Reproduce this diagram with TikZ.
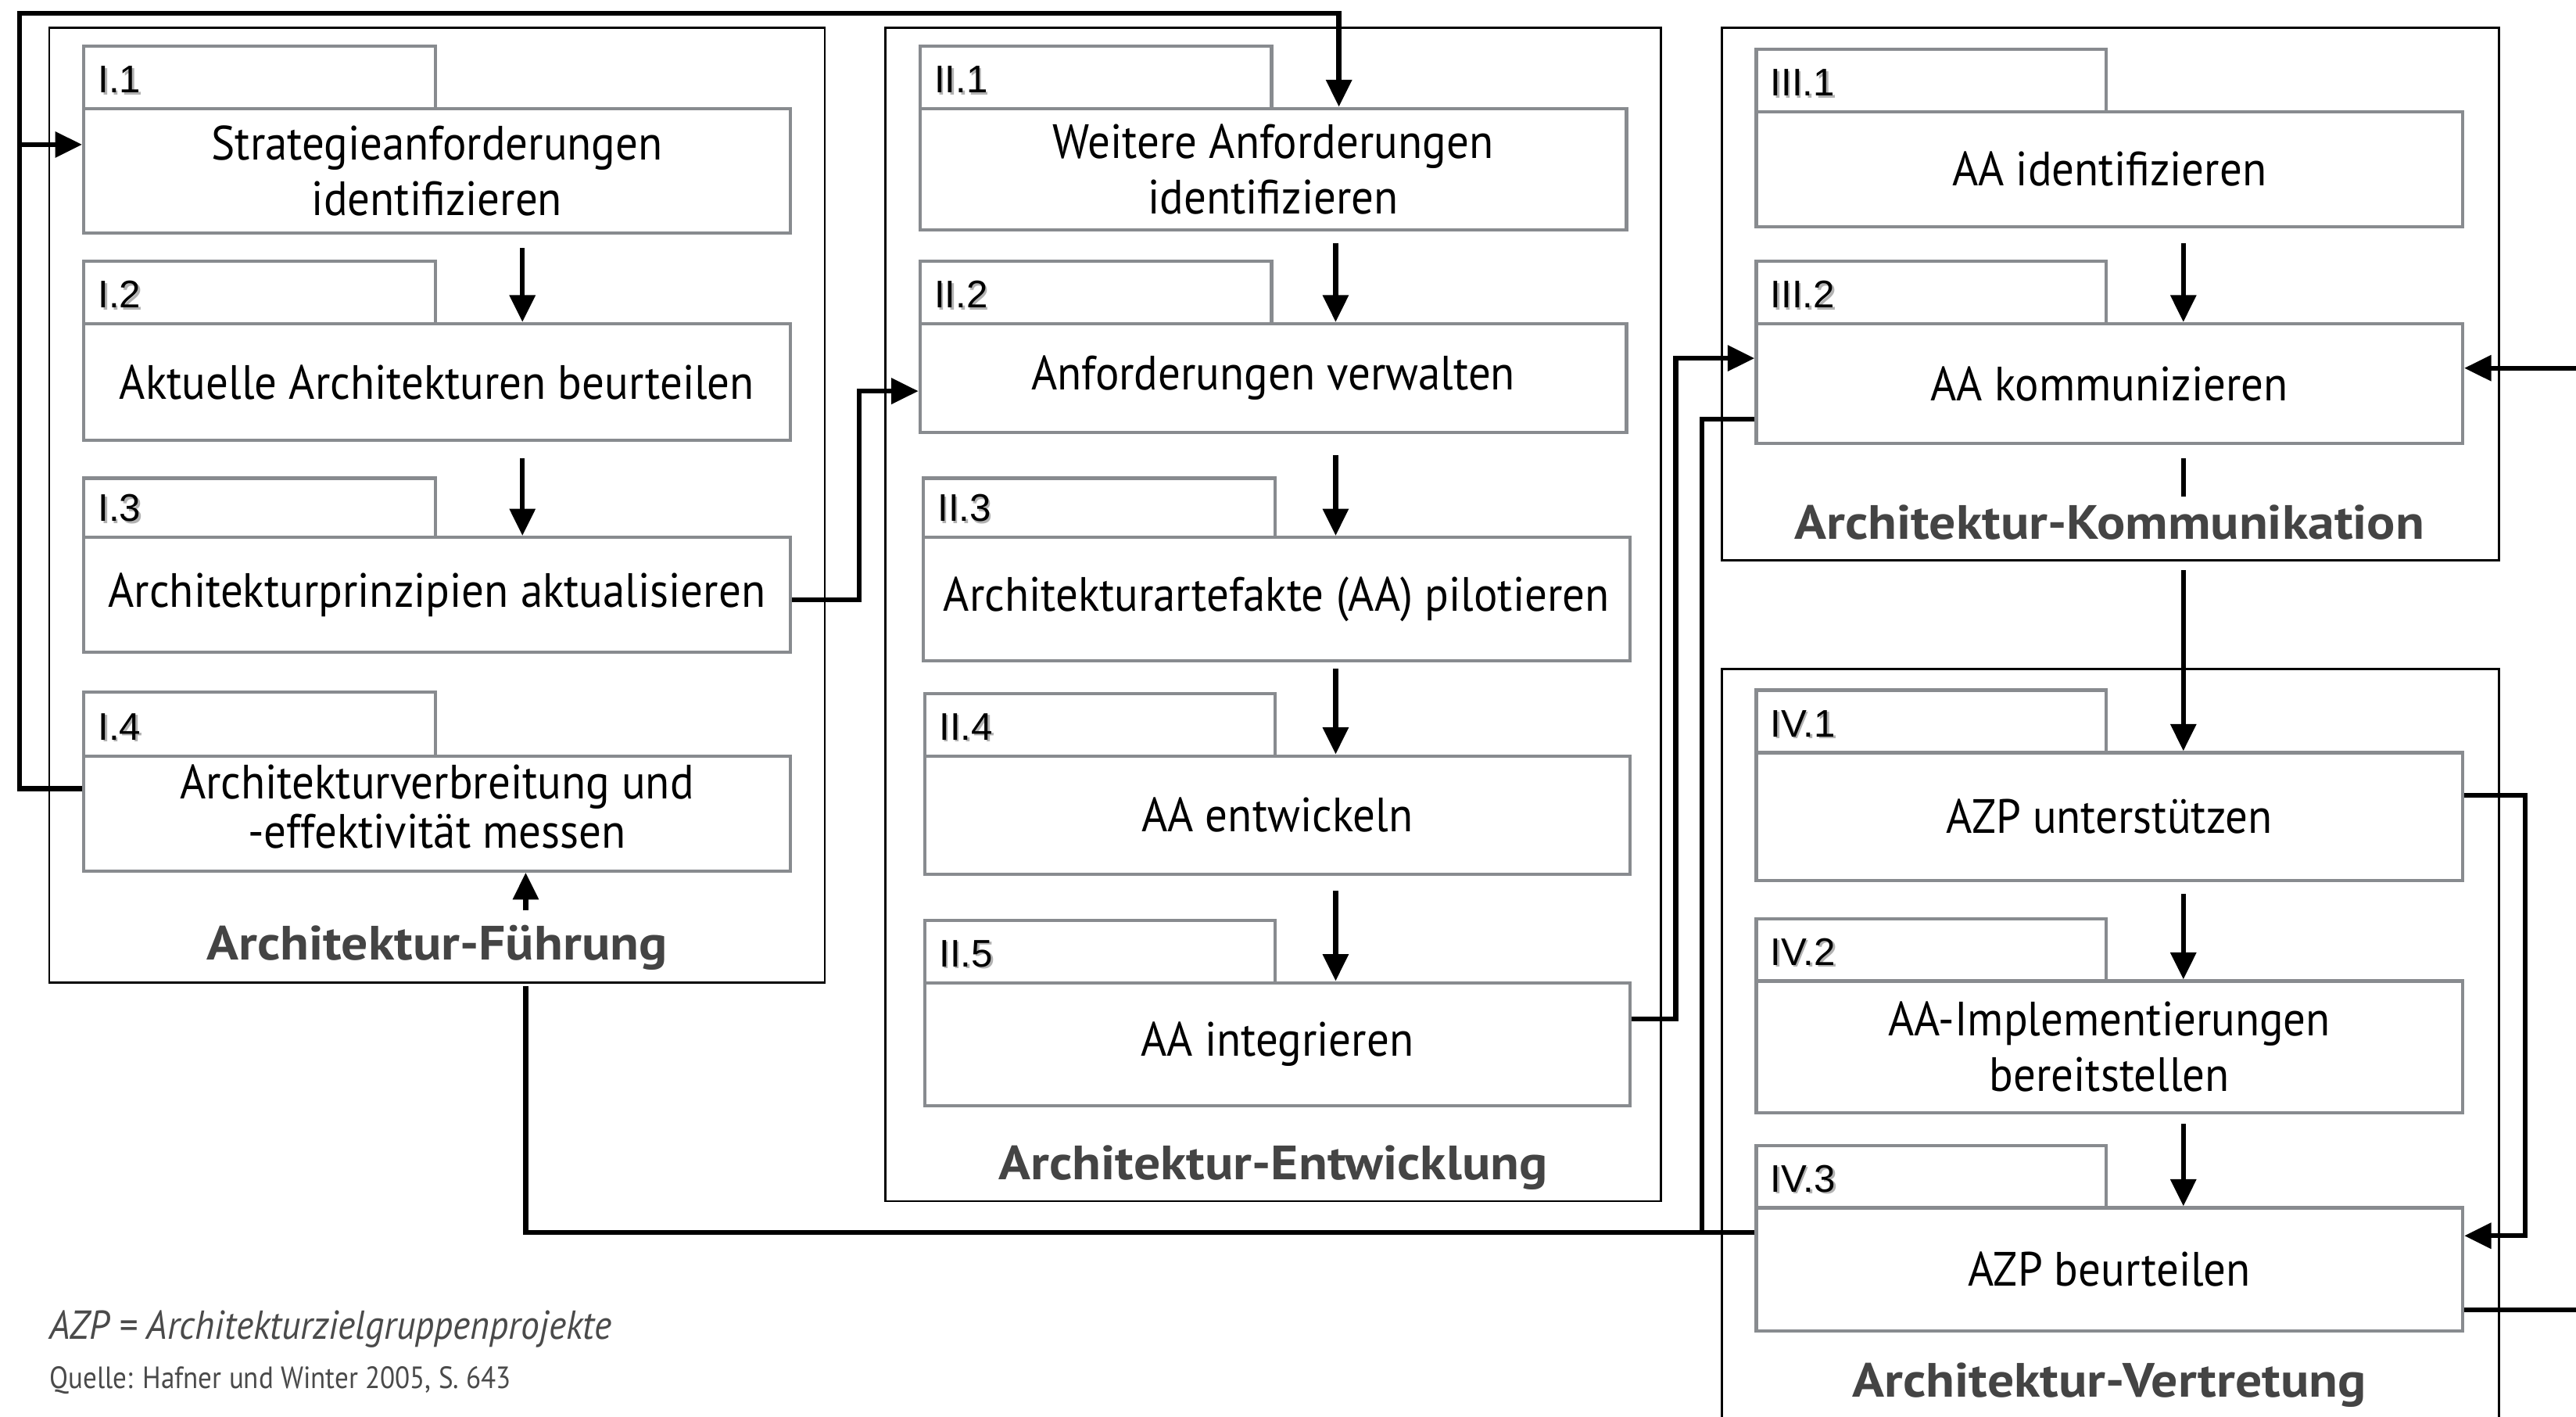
\documentclass[tikz,border=0pt]{standalone}
\usepackage{fontspec}
\setmainfont{PT Sans}
\newfontfamily\bodyfont[FakeStretch=0.925]{PT Sans}
\newfontfamily\titlefont[FakeStretch=1.1]{PT Sans}
\newfontfamily\notefont[FakeStretch=0.92]{PT Sans}
\newfontfamily\tabfont{Liberation Sans}
\usetikzlibrary{arrows.meta}
\definecolor{boxgray}{HTML}{888B8F}
\definecolor{titlegray}{HTML}{444444}
\definecolor{notegray}{HTML}{4A4A4A}

\tikzset{
  stepbox/.style={draw=boxgray, line width=1.7pt, fill=white, inner sep=0pt,
    align=center, font=\bodyfont\fontsize{25}{29}\selectfont},
  tightlines/.style={font=\bodyfont\fontsize{25}{25.6}\selectfont},
  tabbox/.style={draw=boxgray, line width=1.7pt, fill=white, inner sep=0pt},
  tablabel/.style={inner sep=0pt, font=\tabfont\fontsize{20}{24}\selectfont},
  tabshadow/.style={tablabel, text=black!30},
  groupbox/.style={draw=black, line width=1.1pt, inner sep=0pt},
  grouptitle/.style={inner sep=0pt, text=titlegray, font=\titlefont\bfseries\fontsize{25}{30}\selectfont},
  flow/.style={line width=2.6pt},
  flowarrow/.style={flow, -{Triangle[length=14pt,width=13pt]}},
}

% rectangle node from its two corners: name, x1, y1, x2, y2, style, text
\newcommand\cornerbox[7]{%
  \node[#6, minimum width={(#4-#2)*0.3mm}, minimum height={(#5-#3)*0.3mm}]
    (#1) at ({(#2+#4)/2},{(#3+#5)/2}) {#7};}
% numbered tab above a step: name, x1, y1, x2, y2, label
\newcommand\steptab[6]{%
  \cornerbox{#1}{#2}{#3}{#4}{#5}{tabbox}{}
  \node[tabshadow, anchor=base west] (#1-shadow) at ({#2+9.7},{#5-8.4}) {#6};
  \node[tablabel, anchor=base west] (#1-label) at ({#2+8.5},{#5-9.6}) {#6};}

\begin{document}
\begin{tikzpicture}[x=0.3mm, y=-0.3mm]
\useasboundingbox (0,0) rectangle (1568,862);

% process groups
\cornerbox{g1}{30}{17}{502}{598}{groupbox}{}
\cornerbox{g2}{539}{17}{1011}{731}{groupbox}{}
\cornerbox{g3}{1048}{17}{1521}{341}{groupbox}{}
\cornerbox{g4}{1048}{407}{1521}{880}{groupbox}{}

% Architektur-Fuehrung
\steptab{i1t}{51}{28}{265}{66}{I.1}
\cornerbox{i1}{51}{66}{481}{142}{stepbox}{Strategieanforderungen\\identifizieren}
\steptab{i2t}{51}{159}{265}{197}{I.2}
\cornerbox{i2}{51}{197}{481}{268}{stepbox}{Aktuelle Architekturen beurteilen}
\steptab{i3t}{51}{291}{265}{327}{I.3}
\cornerbox{i3}{51}{327}{481}{397}{stepbox}{Architekturprinzipien aktualisieren}
\steptab{i4t}{51}{421}{265}{460}{I.4}
\cornerbox{i4}{51}{460}{481}{530}{stepbox, tightlines}{\raisebox{3pt}{\begin{tabular}{@{}c@{}}Architekturverbreitung und\\-effektivität messen\end{tabular}}}
\node[grouptitle, anchor=base] (t1) at (266,584) {Architektur-Führung};

% Architektur-Entwicklung
\steptab{ii1t}{560}{28}{774}{66}{II.1}
\cornerbox{ii1}{560}{66}{990}{140}{stepbox}{Weitere Anforderungen\\identifizieren}
\steptab{ii2t}{560}{159}{774}{197}{II.2}
\cornerbox{ii2}{560}{197}{990}{263}{stepbox}{Anforderungen verwalten}
\steptab{ii3t}{562}{291}{776}{327}{II.3}
\cornerbox{ii3}{562}{327}{992}{402}{stepbox}{Architekturartefakte (AA) pilotieren}
\steptab{ii4t}{563}{422}{776}{460}{II.4}
\cornerbox{ii4}{563}{460}{992}{532}{stepbox}{AA entwickeln}
\steptab{ii5t}{563}{560}{776}{598}{II.5}
\cornerbox{ii5}{563}{598}{992}{673}{stepbox}{AA integrieren}
\node[grouptitle, anchor=base] (t2) at (775,718) {Architektur-Entwicklung};

% Architektur-Kommunikation
\steptab{iii1t}{1069}{30}{1282}{68}{III.1}
\cornerbox{iii1}{1069}{68}{1499}{138}{stepbox}{AA identifizieren}
\steptab{iii2t}{1069}{159}{1282}{197}{III.2}
\cornerbox{iii2}{1069}{197}{1499}{270}{stepbox}{AA kommunizieren}
\node[grouptitle, anchor=base] (t3) at (1284,328) {Architektur-Kommunikation};

% Architektur-Vertretung
\steptab{iv1t}{1069}{420}{1282}{458}{IV.1}
\cornerbox{iv1}{1069}{458}{1499}{536}{stepbox}{AZP unterstützen}
\steptab{iv2t}{1069}{559}{1282}{597}{IV.2}
\cornerbox{iv2}{1069}{597}{1499}{677}{stepbox}{AA-Implementierungen\\bereitstellen}
\steptab{iv3t}{1069}{697}{1282}{735}{IV.3}
\cornerbox{iv3}{1069}{735}{1499}{810}{stepbox}{AZP beurteilen}
\node[grouptitle, anchor=base] (t4) at (1284,850) {Architektur-Vertretung};

% sequence arrows inside the groups
\draw[flowarrow] (i1.south -| 318,0) ++(0,8) -- (i2.north -| 318,0);
\draw[flowarrow] (i2.south -| 318,0) ++(0,10) -- (i3.north -| 318,0);
\draw[flowarrow] (ii1.south -| 813,0) ++(0,7) -- (ii2.north -| 813,0);
\draw[flowarrow] (ii2.south -| 813,0) ++(0,13) -- (ii3.north -| 813,0);
\draw[flowarrow] (ii3.south -| 813,0) ++(0,4) -- (ii4.north -| 813,0);
\draw[flowarrow] (ii4.south -| 813,0) ++(0,9) -- (ii5.north -| 813,0);
\draw[flowarrow] (iii1.south -| 1329,0) ++(0,9) -- (iii2.north -| 1329,0);
\draw[flowarrow] (iv1.south -| 1329,0) ++(0,7) -- (iv2.north -| 1329,0);
\draw[flowarrow] (iv2.south -| 1329,0) ++(0,6) -- (iv3.north -| 1329,0);

% III.2 down to IV.1, interrupted by the group title
\coordinate (kgapA) at (1329,302);
\coordinate (kgapB) at (1329,347);
\draw[flow] (iii2.south -| 1329,0) ++(0,8) -- (kgapA);
\draw[flowarrow] (kgapB) -- (iv1.north -| 1329,0);

% feedback loop from I.4 to I.1 and II.1
\coordinate (loopL) at (12,8);
\coordinate (loopR) at (815,8);
\coordinate (loopB) at (12,88);
\draw[flowarrow] (i4.west |- 0,480) -| (loopL) -- (loopR) -- (loopR |- ii1.north);
\draw[flowarrow] (loopB) -- (i1.west |- loopB);

% I.3 to II.2
\draw[flowarrow] (i3.east |- 0,365) -| (523,238) -- (ii2.west |- 0,238);

% II.5 to III.2
\draw[flowarrow] (ii5.east |- 0,620) -| (1020,218) -- (iii2.west |- 0,218);

% IV.3 and III.2 back to I.4, interrupted by the group title
\coordinate (fgapA) at (320,600);
\coordinate (fgapB) at (320,554);
\draw[flow] (iii2.west |- 0,255) -| (1036,750);
\draw[flow] (iv3.west |- 0,750) -| (fgapA);
\draw[flowarrow] (fgapB) -- (i4.south -| fgapB);

% IV.1 to IV.3
\draw[flowarrow] (iv1.east |- 0,484) -| (1537,752) -- (iv3.east |- 0,752);

% links leaving the right edge
\coordinate (rightIn) at (1568,224);
\coordinate (rightOut) at (1568,797);
\draw[flowarrow] (rightIn) -- (iii2.east |- rightIn);
\draw[flow] (iv3.east |- rightOut) -- (rightOut);

% notes
\node[anchor=base west, inner sep=0pt, text=notegray, font=\notefont\itshape\fontsize{21}{24}\selectfont]
  (note) at (30,815) {AZP = Architekturzielgruppenprojekte};
\node[anchor=base west, inner sep=0pt, text=notegray, font=\notefont\fontsize{16}{18}\selectfont\addfontfeatures{FakeStretch=0.89}]
  (source) at (30,845) {Quelle: Hafner und Winter 2005, S. 643};
\end{tikzpicture}
\end{document}
